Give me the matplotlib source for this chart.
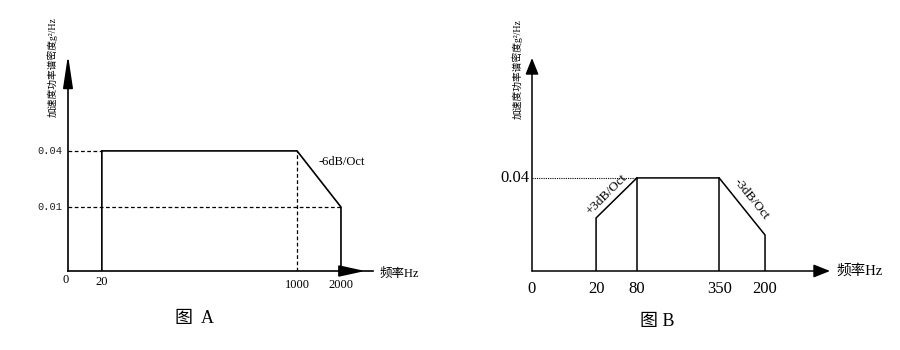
import matplotlib
matplotlib.use("Agg")
import matplotlib.pyplot as plt

FONT = ['Liberation Serif', 'Noto Sans CJK SC']
plt.rcParams['font.family'] = FONT

# ---- data: figure A ----
freq_a = ['20', '1000', '2000']
psd_a = [0.04, 0.04, 0.01]
levels_a = ['0.04', '0.01']
slope_a = '-6dB/Oct'
# schematic (not to scale) positions used for drawing
xpos_a = [0.111, 0.751, 0.895]
ypos_a = {0.04: 0.556, 0.01: 0.296}

# ---- data: figure B ----
freq_b = ['20', '80', '350', '200']
xpos_b = [0.215, 0.352, 0.628, 0.782]
ypos_b = [0.249, 0.437, 0.437, 0.169]   # schematic heights of the profile
level_b = '0.04'
slopes_b = ['+3dB/Oct', '-3dB/Oct']

ylabel = '加速度功率谱密度g²/Hz'
xlabel = '频率Hz'

fig = plt.figure(figsize=(9, 3.5), dpi=100)


def make_axes(left, bottom, right, top):
    W, H = 900, 350
    ax = fig.add_axes([left / W, 1 - bottom / H, (right - left) / W, (bottom - top) / H])
    ax.set_xlim(0, 1)
    ax.set_ylim(0, 1)
    ax.axis('off')
    return ax


# ================= figure A =================
ax = make_axes(68, 271, 373, 55)
lw = 1.2
y_hi = ypos_a[psd_a[0]]
y_lo = ypos_a[psd_a[2]]
x20, x1000, x2000 = xpos_a

# axes
ax.plot([0, 0], [0, 0.88], color='black', lw=lw, clip_on=False)
ax.annotate('', xy=(0, 1.0), xytext=(0, 0.86),
            arrowprops=dict(arrowstyle='-|>,head_length=2.0,head_width=0.3',
                            mutation_scale=10, lw=lw, color='black',
                            shrinkA=0, shrinkB=0))
ax.plot([0, 1], [0, 0], color='black', lw=lw, clip_on=False)
ax.annotate('', xy=(0.974, 0), xytext=(0.90, 0),
            arrowprops=dict(arrowstyle='-|>,head_length=1.6,head_width=0.35',
                            mutation_scale=10, lw=lw, color='black',
                            shrinkA=0, shrinkB=0))

# profile
ax.plot([x20, x20, x1000, x2000, x2000], [0, y_hi, y_hi, y_lo, 0],
        color='black', lw=lw, solid_joinstyle='miter')
# guide lines
dash = dict(color='black', lw=0.9, ls=(0, (3, 2)))
ax.plot([0, x20], [y_hi, y_hi], **dash)
ax.plot([0, x2000], [y_lo, y_lo], **dash)
ax.plot([x1000, x1000], [0, y_hi], **dash)

# labels
mono = ['Liberation Mono']
ax.text(-0.018, y_hi, levels_a[0], ha='right', va='center', fontsize=7.5, family=mono, color='#222222')
ax.text(-0.018, y_lo, levels_a[1], ha='right', va='center', fontsize=7.5, family=mono, color='#222222')
ax.text(-0.007, -0.04, '0', ha='center', va='center', fontsize=9)
ax.text(x20, -0.05, freq_a[0], ha='center', va='center', fontsize=9)
ax.text(x1000, -0.065, freq_a[1], ha='center', va='center', fontsize=9)
ax.text(x2000, -0.065, freq_a[2], ha='center', va='center', fontsize=9)
ax.text(1.02, -0.014, xlabel, ha='left', va='center', fontsize=9)
ax.text(0.82, 0.505, slope_a, ha='left', va='center', fontsize=9)
ax.text(-0.052, 0.944, ylabel, ha='center', va='center', rotation=90, fontsize=7)
ax.text(0.416, -0.218, '图  A', ha='center', va='center', fontsize=13)

# ================= figure B =================
ax = make_axes(532, 271, 830, 58)
lw = 1.1

ax.annotate('', xy=(0, 1.0), xytext=(0, 0),
            arrowprops=dict(arrowstyle='-|>,head_length=1.0,head_width=0.4',
                            mutation_scale=10, lw=lw, color='black',
                            shrinkA=0, shrinkB=0))
ax.annotate('', xy=(1.0, 0), xytext=(0, 0),
            arrowprops=dict(arrowstyle='-|>,head_length=1.0,head_width=0.4',
                            mutation_scale=10, lw=lw, color='black',
                            shrinkA=0, shrinkB=0))

xs = [xpos_b[0]] + xpos_b + [xpos_b[-1]]
ys = [0] + ypos_b + [0]
ax.plot(xs, ys, color='black', lw=lw, solid_joinstyle='miter')
ax.plot([xpos_b[1], xpos_b[1]], [0, ypos_b[1]], color='black', lw=lw)
ax.plot([xpos_b[2], xpos_b[2]], [0, ypos_b[2]], color='black', lw=lw)
ax.plot([0, xpos_b[1]], [ypos_b[1], ypos_b[1]], color='black', lw=0.8, ls=(0, (1, 1)))

ax.text(-0.007, ypos_b[1], level_b, ha='right', va='center', fontsize=12)
ax.text(0, -0.085, '0', ha='center', va='center', fontsize=12)
for x, lab in zip(xpos_b, freq_b):
    ax.text(x, -0.085, lab, ha='center', va='center', fontsize=12)
ax.text(1.023, 0, xlabel, ha='left', va='center', fontsize=10.5)
ax.text(0.252, 0.36, slopes_b[0], ha='center', va='center', rotation=45, fontsize=9.5)
ax.text(0.735, 0.335, slopes_b[1], ha='center', va='center', rotation=-51, fontsize=9.5)
ax.text(-0.05, 0.948, ylabel, ha='center', va='center', rotation=90, fontsize=7)
ax.text(0.419, -0.239, '图 B', ha='center', va='center', fontsize=13)

fig.savefig('out.png', dpi=100, facecolor='white')
